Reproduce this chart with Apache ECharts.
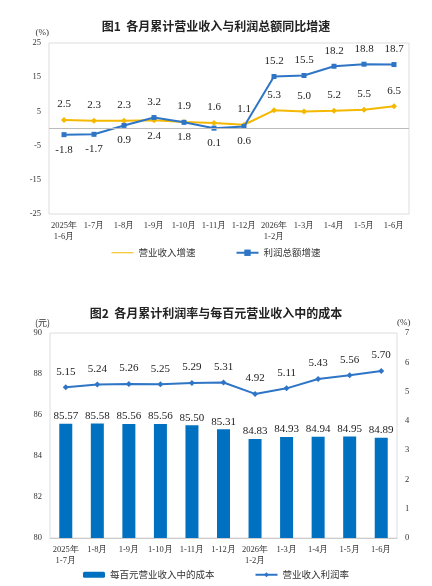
<!DOCTYPE html>
<html><head><meta charset="utf-8">
<script src="https://cdn.jsdelivr.net/npm/echarts@6/dist/echarts.min.js"></script>
<style>html,body{margin:0;padding:0;background:#fff}#c{width:432px;height:586px}</style>
</head><body><div id="c"></div>
<script>
var cats1 = ['2025年\n1-6月', '1-7月', '1-8月', '1-9月', '1-10月', '1-11月', '1-12月', '2026年\n1-2月', '1-3月', '1-4月', '1-5月', '1-6月'];
var revenueGrowth = [2.5, 2.3, 2.3, 2.4, 1.9, 1.6, 1.1, 5.3, 5.0, 5.2, 5.5, 6.5];
var profitGrowth = [-1.8, -1.7, 0.9, 3.2, 1.8, 0.1, 0.6, 15.2, 15.5, 18.2, 18.8, 18.7];
// label below (true) or above
var revenueBelow = [false, false, false, true, false, false, false, false, false, false, false, false];
var profitBelow = [true, true, true, false, true, true, true, false, false, false, false, false];

var cats2 = ['2025年\n1-7月', '1-8月', '1-9月', '1-10月', '1-11月', '1-12月', '2026年\n1-2月', '1-3月', '1-4月', '1-5月', '1-6月'];
var costPer100 = [85.57, 85.58, 85.56, 85.56, 85.50, 85.31, 84.83, 84.93, 84.94, 84.95, 84.89];
var profitRate = [5.15, 5.24, 5.26, 5.25, 5.29, 5.31, 4.92, 5.11, 5.43, 5.56, 5.70];

var serif = 'Liberation Serif';
var cjk = 'Noto Sans CJK SC';
var lbl = {fontFamily: serif, fontSize: 11, color: '#222'};
function items(vals, below, dec) {
  return vals.map(function (v, i) {
    return {value: v, label: {position: below[i] ? 'bottom' : 'top', distance: 7,
      formatter: v.toFixed(dec)}};
  });
}
var axisLbl = {fontFamily: serif, fontSize: 8.5, color: '#333'};
var box = {show: true, borderColor: '#ddd', borderWidth: 1};

var chart = echarts.init(document.getElementById('c'));
chart.setOption({
  animation: false,
  title: [
    {text: '图1  各月累计营业收入与利润总额同比增速', left: 'center', top: 15,
      textStyle: {fontFamily: cjk, fontSize: 12, fontWeight: 'bold', color: '#222'}},
    {text: '图2  各月累计利润率与每百元营业收入中的成本', left: 'center', top: 302,
      textStyle: {fontFamily: cjk, fontSize: 12, fontWeight: 'bold', color: '#222'}}
  ],
  legend: [
    {top: 243, left: 'center', itemGap: 40, itemWidth: 22, itemHeight: 8,
      textStyle: {fontFamily: cjk, fontSize: 9.5, color: '#333'},
      data: [{name: '营业收入增速', icon: 'path://M0,4L22,4L22,5L0,5Z'}, '利润总额增速']},
    {top: 565, left: 'center', itemGap: 40, itemWidth: 22, itemHeight: 6,
      textStyle: {fontFamily: cjk, fontSize: 9.5, color: '#333'},
      data: ['每百元营业收入中的成本', '营业收入利润率']}
  ],
  grid: [
    Object.assign({left: 49, right: 23, top: 43, height: 171}, box),
    Object.assign({left: 50, right: 35, top: 333, height: 205}, box)
  ],
  xAxis: [
    {type: 'category', gridIndex: 0, data: cats1, position: 'bottom',
      axisLine: {show: false}, axisTick: {show: false},
      axisLabel: Object.assign({margin: 6, interval: 0, lineHeight: 11}, axisLbl),
      offset: 0},
    {type: 'category', gridIndex: 1, data: cats2,
      axisLine: {lineStyle: {color: '#ccc'}}, axisTick: {show: false},
      axisLabel: Object.assign({margin: 6, interval: 0, lineHeight: 11}, axisLbl)}
  ],
  yAxis: [
    {type: 'value', gridIndex: 0, min: -25, max: 25, interval: 10, name: '(%)',
      nameGap: 6, nameTextStyle: {fontFamily: serif, fontSize: 9, color: '#333', align: 'right', padding: [0, 0, 0, 0]},
      axisLine: {show: false}, axisTick: {show: false}, splitLine: {show: false},
      axisLabel: axisLbl},
    {type: 'value', gridIndex: 1, min: 80, max: 90, interval: 2, name: '(元)',
      nameGap: 6, nameTextStyle: {fontFamily: cjk, fontSize: 9, color: '#333', align: 'right'},
      axisLine: {show: false}, axisTick: {show: false}, splitLine: {show: false},
      axisLabel: axisLbl},
    {type: 'value', gridIndex: 1, min: 0, max: 7, interval: 1, position: 'right', name: '(%)',
      nameGap: 6, nameTextStyle: {fontFamily: serif, fontSize: 9, color: '#333', align: 'left'},
      axisLine: {show: false}, axisTick: {show: false}, splitLine: {show: false},
      axisLabel: axisLbl}
  ],
  series: [
    {name: '营业收入增速', type: 'line', xAxisIndex: 0, yAxisIndex: 0,
      data: items(revenueGrowth, revenueBelow, 1), symbol: 'diamond', symbolSize: 6,
      itemStyle: {color: '#F5B800'}, lineStyle: {width: 2, color: '#F5B800'},
      label: Object.assign({show: true}, lbl), z: 3,
      markLine: {silent: true, symbol: 'none', label: {show: false},
        lineStyle: {color: '#bbb', type: 'solid', width: 1}, data: [{yAxis: 0}]}},
    {name: '利润总额增速', type: 'line', xAxisIndex: 0, yAxisIndex: 0,
      data: items(profitGrowth, profitBelow, 1), symbol: 'rect', symbolSize: 5,
      itemStyle: {color: '#2E75C6'}, lineStyle: {width: 2, color: '#2E75C6'},
      label: Object.assign({show: true}, lbl), z: 4},
    {name: '每百元营业收入中的成本', type: 'bar', xAxisIndex: 1, yAxisIndex: 1,
      data: costPer100, barWidth: 13, itemStyle: {color: '#0070C0'},
      label: Object.assign({show: true, position: 'top', distance: 2,
        formatter: function (p) { return p.value.toFixed(2); }}, lbl)},
    {name: '营业收入利润率', type: 'line', xAxisIndex: 1, yAxisIndex: 2,
      data: profitRate, symbol: 'diamond', symbolSize: 6,
      itemStyle: {color: '#2E75C6'}, lineStyle: {width: 2, color: '#2E75C6'},
      label: Object.assign({show: true, position: 'top', distance: 7,
        formatter: function (p) { return p.value.toFixed(2); }}, lbl)}
  ]
});
</script></body></html>
